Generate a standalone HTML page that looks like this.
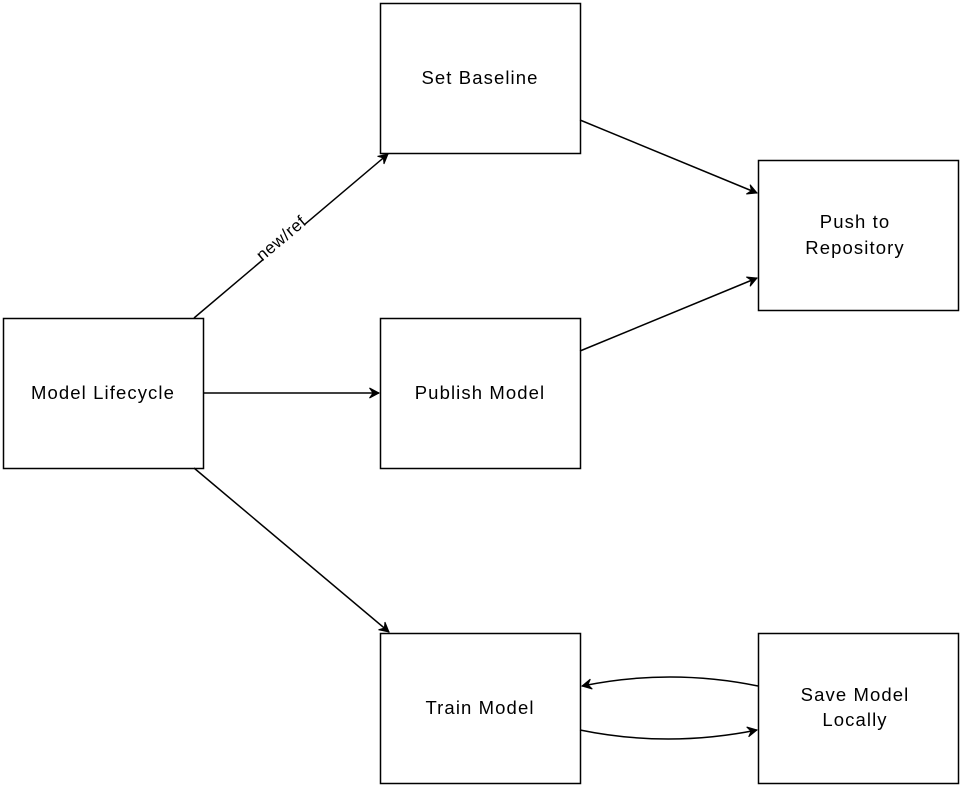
<!DOCTYPE html>
<html><head><meta charset="utf-8"><style>
html,body{margin:0;padding:0;background:#fff;width:962px;height:786px;overflow:hidden}
svg text{font-family:"Liberation Sans",sans-serif;font-size:18.5px;letter-spacing:1.1px;fill:#000}
</style></head><body>
<svg width="962" height="786" viewBox="0 0 962 786" xmlns="http://www.w3.org/2000/svg">
<defs><marker id="a" markerWidth="12" markerHeight="12" refX="10" refY="6" orient="auto" markerUnits="userSpaceOnUse">
<path d="M0.5,1 L10,6 L0.5,11 L4,6 Z" fill="#000" stroke="#000" stroke-width="1" stroke-linejoin="miter"/></marker></defs>
<g fill="#fff" stroke="#000" stroke-width="1.5">
<rect x="380.5" y="3.5" width="200" height="150"/>
<rect x="758.5" y="160.5" width="200" height="150"/>
<rect x="3.5" y="318.5" width="200" height="150"/>
<rect x="380.5" y="318.5" width="200" height="150"/>
<rect x="380.5" y="633.5" width="200" height="150"/>
<rect x="758.5" y="633.5" width="200" height="150"/>
</g>
<g fill="none" stroke="#000" stroke-width="1.5" marker-end="url(#a)">
<path d="M194,318 L388,154"/>
<path d="M203,393 L379,393"/>
<path d="M194,468 L389,632"/>
<path d="M580,120 L757,193"/>
<path d="M580,351 L757,278"/>
<path d="M758,686 Q670,668 582,686"/>
<path d="M580,730 Q668,748 757,730"/>
</g>
<g transform="rotate(-40 281 238)">
<rect x="254" y="229" width="54" height="18" fill="#fff"/>
<text x="281" y="244" text-anchor="middle" style="font-size:17px;letter-spacing:0.5px">new/ref</text>
</g>
<g text-anchor="middle">
<text x="480" y="84">Set Baseline</text>
<text x="855" y="228">Push to</text>
<text x="855" y="254">Repository</text>
<text x="103" y="399">Model Lifecycle</text>
<text x="480" y="399">Publish Model</text>
<text x="480" y="714">Train Model</text>
<text x="855" y="701">Save Model</text>
<text x="855" y="726">Locally</text>
</g>
</svg>
</body></html>
